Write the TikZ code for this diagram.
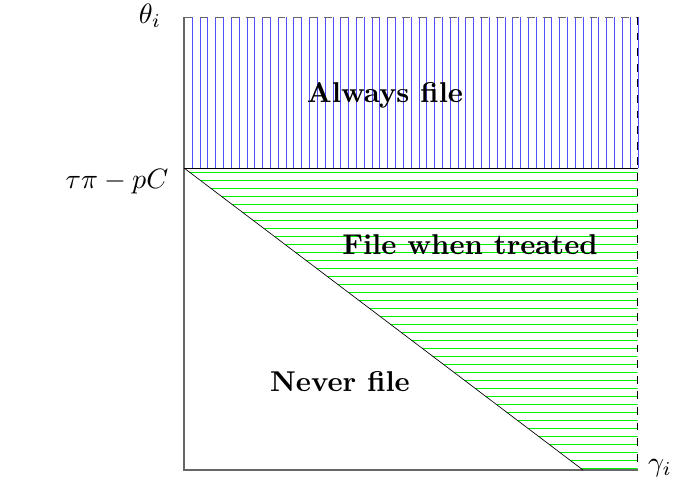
\documentclass[tikz,border=0pt]{standalone}
\definecolor{hatchblue}{RGB}{80,80,255}
\definecolor{hatchgreen}{RGB}{0,240,0}
\begin{document}
\begin{tikzpicture}[x=0.75pt,y=-0.75pt,
  lbl/.style={scale=2.1, inner sep=0pt},
  region/.style={scale=2.15, font=\bfseries, inner sep=0pt},
  bfill/.style={fill=hatchblue},
  gline/.style={hatchgreen, line width=0.8pt},
  edge/.style={black, line width=0.5pt},
  axisline/.style={black!60, line width=0.9pt},
  dashedge/.style={dash pattern=on 5.85pt off 5.85pt, line width=0.7pt}]
\useasboundingbox (0,0) rectangle (678,486);
\coordinate (tl) at (184,17);
\coordinate (tr) at (637.5,17);
\coordinate (ml) at (184,168);
\coordinate (mr) at (637.5,168);
\coordinate (bl) at (184,470);
\coordinate (br) at (637.5,470);
\coordinate (dg) at (583,470);
% blue vertical hatching
\foreach \i [evaluate=\i as \xx using {184+round(\i*7.819)}] in {0,...,58}
  \fill[bfill] (\xx,17) rectangle (\xx+1.1,168);
% green horizontal hatching
\begin{scope}
  \clip (ml) -- (mr) -- (br) -- (dg) -- cycle;
  \foreach \i in {0,...,37}
    \draw[gline] (180,{172.5+\i*8}) -- (640,{172.5+\i*8});
\end{scope}
% borders
\draw[dashedge, black!60] (tl) -- (tr);
\draw[dashedge, black] (tr) -- (br);
\draw[axisline] (tl) -- (bl) -- (br);
\draw[edge] (ml) -- (mr);
\draw[edge] (ml) -- (dg);
% labels
\node[lbl] (theta) at (150,16) {$\theta_i$};
\node[lbl] (cut) at (117,182) {$\tau\pi - pC$};
\node[lbl] (gamma) at (660,468) {$\gamma_i$};
\node[region] (always) at (385,95) {Always file};
\node[region] (treated) at (470,245) {File when treated};
\node[region] (never) at (340,382) {Never file};
\end{tikzpicture}
\end{document}
